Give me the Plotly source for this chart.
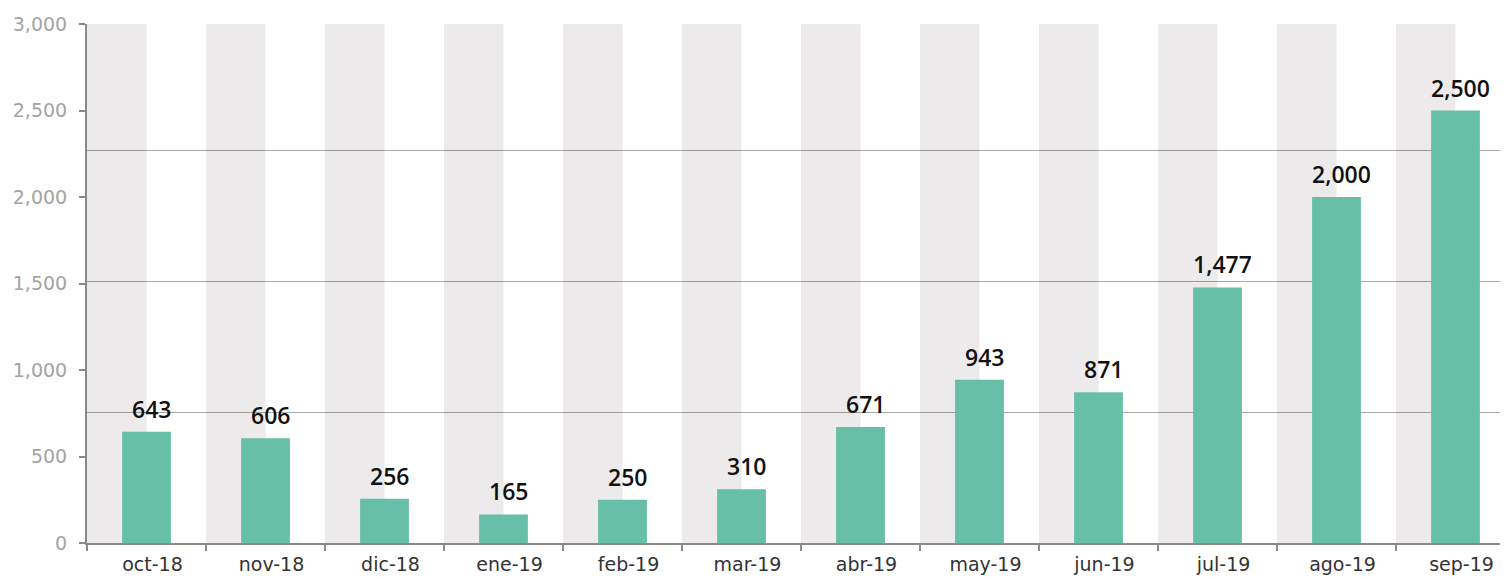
import plotly.graph_objects as go

months = ["oct-18", "nov-18", "dic-18", "ene-19", "feb-19", "mar-19",
          "abr-19", "may-19", "jun-19", "jul-19", "ago-19", "sep-19"]
values = [643, 606, 256, 165, 250, 310, 671, 943, 871, 1477, 2000, 2500]
band_values = [3000, 3000, 3000, 3000, 3000, 3000, 3000, 3000, 3000, 3000, 3000, 3000]
y_ticks = [0, 500, 1000, 1500, 2000, 2500, 3000]

AXIS_FONT = "DejaVu Sans"
LABEL_FONT = "Open Sans"
AXIS_COLOR = "#8a8a8a"

fig = go.Figure()
fig.add_trace(go.Bar(
    x=months, y=band_values, width=0.5, offset=-0.5,
    marker=dict(color="rgba(60,25,45,0.09)", line=dict(width=0)),
    hoverinfo="skip", showlegend=False,
))
fig.add_trace(go.Bar(
    x=months, y=values, width=0.41,
    marker=dict(color="#66BFA6", line=dict(width=0)),
    showlegend=False,
))

annotations = [
    dict(x=m, y=v, text=f"{v:,}", showarrow=False, yanchor="bottom",
         yshift=5, xshift=5,
         font=dict(family=LABEL_FONT, size=23, color="#111111", weight=600))
    for m, v in zip(months, values)
]

# The page body adds an 8px offset; size/margins compensate for it.
# The plot area runs slightly past the right edge of the window, as in the reference.
fig.update_layout(
    width=1508, height=571,
    margin=dict(l=79, r=1, t=16, b=36),
    barmode="overlay",
    plot_bgcolor="white", paper_bgcolor="white",
    font=dict(family=AXIS_FONT),
    annotations=annotations,
    xaxis=dict(
        type="category", showline=True, linecolor=AXIS_COLOR, linewidth=2,
        ticks="outside", tickson="boundaries", ticklen=6, tickcolor=AXIS_COLOR,
        tickwidth=2, showgrid=False,
        tickfont=dict(family=AXIS_FONT, size=19, color="#333333"),
        ticklabelshift=6, ticklabelstandoff=3,
    ),
    yaxis=dict(
        range=[0, 3000], tickvals=y_ticks, tickformat=",",
        showline=True, linecolor=AXIS_COLOR, linewidth=2,
        ticks="outside", ticklen=6, tickcolor=AXIS_COLOR, tickwidth=2,
        showgrid=False, zeroline=False,
        tickfont=dict(family=AXIS_FONT, size=19, color="#a3a3a3"),
        ticklabelstandoff=8,
        minor=dict(tick0=0, dtick=757, showgrid=True, gridcolor="#a8a8a8",
                   gridwidth=1, ticks=""),
    ),
)

fig.write_html("out.html", post_script="document.body.style.overflow='hidden';")
